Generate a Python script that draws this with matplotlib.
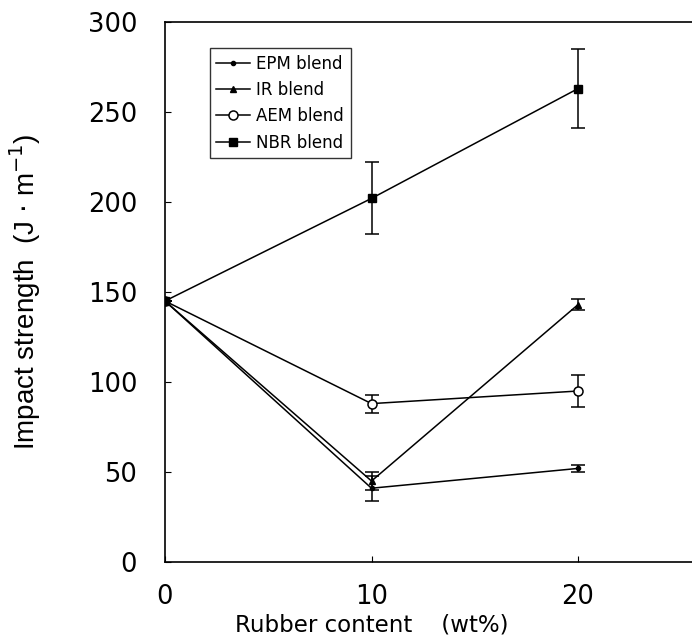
import matplotlib
matplotlib.use("Agg")
import matplotlib.pyplot as plt

# --- data ---
rubber = [0, 10, 20]

epm = [145, 41, 52]
epm_err = [0, 7, 2]

ir = [145, 45, 143]
ir_err = [0, 5, 3]

aem = [145, 88, 95]
aem_err = [0, 5, 9]

nbr = [145, 202, 263]
nbr_err = [0, 20, 22]

plt.rcParams['font.family'] = ['DejaVu Sans']

fig = plt.figure(figsize=(6.92, 6.41), dpi=100)
ax = fig.add_axes([0.2384, 0.1232, 0.776, 0.8425])

common = dict(color='black', ecolor='black', lw=1.1, elinewidth=1.1,
              capsize=5, capthick=1.1)
e1 = ax.errorbar(rubber, epm, yerr=epm_err, marker='o', ms=3,
                 mfc='black', label='EPM blend', **common)
e2 = ax.errorbar(rubber, ir, yerr=ir_err, marker='^', ms=4.5,
                 mfc='black', label='IR blend', **common)
e3 = ax.errorbar(rubber, aem, yerr=aem_err, marker='o', ms=6.5,
                 mfc='white', mew=1.1, label='AEM blend', **common)
e4 = ax.errorbar(rubber, nbr, yerr=nbr_err, marker='s', ms=6,
                 mfc='black', label='NBR blend', **common)

ax.set_xlim(0, 26)
ax.set_ylim(0, 300)
ax.set_xticks([0, 10, 20])
ax.set_yticks(range(0, 301, 50))
ax.tick_params(direction='in', length=4, width=0.8, labelsize=18.5)
ax.tick_params(axis='x', pad=16)
ax.tick_params(axis='y', pad=20)
ax.spines['right'].set_visible(False)
for s in ['left', 'bottom', 'top']:
    ax.spines[s].set_linewidth(1.2)

# x label sits under the "10" tick in the reference
ax.set_xlabel('Rubber content    (wt%)', fontsize=16.5)
ax.xaxis.set_label_coords(0.385, -0.095)
ax.set_ylabel(r'Impact strength  (J $\cdot$ m$^{-1}$)', fontsize=20,
              labelpad=32, family=['Liberation Sans', 'DejaVu Sans'])

handles = [e[0] for e in (e1, e2, e3, e4)]
labels = ['EPM blend', 'IR blend', 'AEM blend', 'NBR blend']
leg = ax.legend(handles, labels, loc='upper left', bbox_to_anchor=(0.083, 0.952),
                borderaxespad=0, fontsize=12, frameon=True, fancybox=False,
                edgecolor='black', handlelength=2.0, borderpad=0.4,
                labelspacing=0.5, handletextpad=0.4)
leg.get_frame().set_linewidth(1.0)

fig.savefig('out.png', dpi=100)
